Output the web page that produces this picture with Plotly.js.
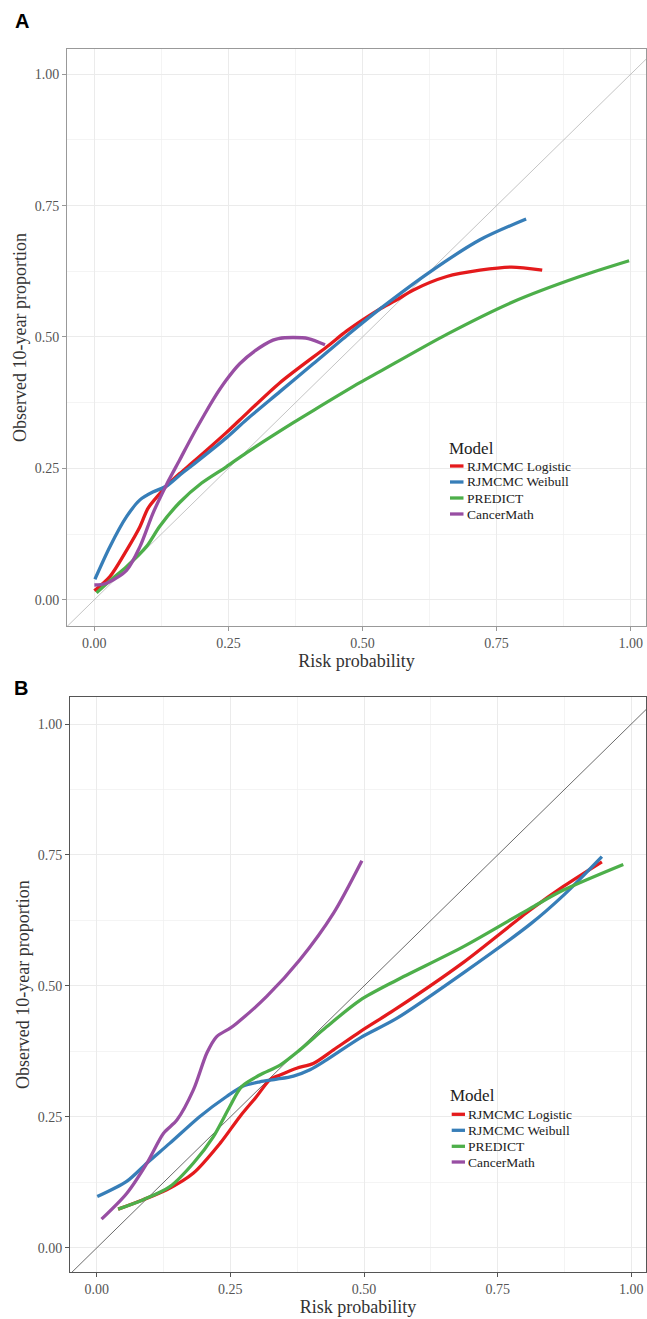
<!DOCTYPE html>
<html>
<head>
<meta charset="utf-8">
<script src="https://cdn.plot.ly/plotly-3.0.1.min.js"></script>
<style>html,body{margin:0;padding:0;background:#fff;}#chart{width:647px;height:1319px;}</style>
</head>
<body>
<div id="chart"></div>
<script>
// ---------- DATA ----------
const models = ['RJMCMC Logistic', 'RJMCMC Weibull', 'PREDICT', 'CancerMath'];
const modelColors = ['#E41A1C', '#377EB8', '#4DAF4A', '#984EA3'];
const tickVals = [0, 0.25, 0.5, 0.75, 1];
const tickText = ['0.00', '0.25', '0.50', '0.75', '1.00'];
const refLine = [-0.2, 1.2];

// Panel A
const aLogX = [0.000, 0.029, 0.060, 0.085, 0.100, 0.122, 0.134, 0.159, 0.184, 0.246, 0.271, 0.346, 0.433, 0.470, 0.501, 0.532, 0.563, 0.594, 0.657, 0.719, 0.778, 0.835];
const aLogY = [0.017, 0.044, 0.094, 0.139, 0.174, 0.202, 0.216, 0.240, 0.262, 0.318, 0.342, 0.413, 0.481, 0.511, 0.533, 0.553, 0.570, 0.589, 0.615, 0.627, 0.633, 0.627];
const aWeiX = [0.001, 0.029, 0.060, 0.085, 0.109, 0.134, 0.159, 0.184, 0.246, 0.284, 0.346, 0.408, 0.470, 0.532, 0.626, 0.719, 0.805];
const aWeiY = [0.039, 0.101, 0.158, 0.190, 0.205, 0.216, 0.237, 0.257, 0.308, 0.343, 0.396, 0.449, 0.502, 0.553, 0.624, 0.685, 0.7245];
const aPreX = [0.004, 0.030, 0.060, 0.097, 0.122, 0.159, 0.200, 0.246, 0.284, 0.371, 0.408, 0.495, 0.532, 0.657, 0.781, 0.905, 0.997];
const aPreY = [0.013, 0.037, 0.063, 0.101, 0.140, 0.185, 0.222, 0.253, 0.280, 0.337, 0.360, 0.413, 0.434, 0.505, 0.567, 0.615, 0.645];
const aCanX = [0.000, 0.022, 0.060, 0.085, 0.109, 0.134, 0.159, 0.184, 0.205, 0.221, 0.246, 0.271, 0.300, 0.333, 0.343, 0.370, 0.399, 0.430];
const aCanY = [0.028, 0.031, 0.056, 0.101, 0.164, 0.218, 0.266, 0.314, 0.352, 0.380, 0.418, 0.449, 0.474, 0.494, 0.497, 0.499, 0.497, 0.485];

// Panel B
const bLogX = [0.040, 0.087, 0.131, 0.181, 0.231, 0.268, 0.299, 0.324, 0.343, 0.374, 0.405, 0.443, 0.493, 0.561, 0.686, 0.811, 0.873, 0.945];
const bLogY = [0.074, 0.092, 0.111, 0.143, 0.200, 0.251, 0.289, 0.321, 0.330, 0.343, 0.352, 0.378, 0.413, 0.457, 0.545, 0.645, 0.690, 0.737];
const bWeiX = [0.001, 0.056, 0.094, 0.137, 0.193, 0.243, 0.274, 0.305, 0.337, 0.368, 0.399, 0.430, 0.493, 0.561, 0.686, 0.811, 0.873, 0.945];
const bWeiY = [0.098, 0.127, 0.162, 0.200, 0.251, 0.289, 0.309, 0.317, 0.322, 0.328, 0.340, 0.359, 0.401, 0.438, 0.525, 0.618, 0.673, 0.747];
const bPreX = [0.040, 0.087, 0.137, 0.181, 0.218, 0.249, 0.271, 0.305, 0.343, 0.380, 0.430, 0.493, 0.561, 0.686, 0.811, 0.873, 0.985];
const bPreY = [0.074, 0.092, 0.117, 0.162, 0.212, 0.270, 0.308, 0.330, 0.349, 0.378, 0.422, 0.473, 0.511, 0.575, 0.648, 0.683, 0.732];
const bCanX = [0.009, 0.056, 0.094, 0.125, 0.150, 0.181, 0.206, 0.224, 0.249, 0.262, 0.318, 0.380, 0.443, 0.496];
const bCanY = [0.055, 0.104, 0.162, 0.219, 0.244, 0.302, 0.372, 0.403, 0.419, 0.429, 0.480, 0.550, 0.639, 0.739];

const panelA = [[aLogX, aLogY], [aWeiX, aWeiY], [aPreX, aPreY], [aCanX, aCanY]];
const panelB = [[bLogX, bLogY], [bWeiX, bWeiY], [bPreX, bPreY], [bCanX, bCanY]];

// ---------- LAYOUT HELPERS ----------
const W = 647, H = 1319;
const M = {l: 67, r: 1, t: 49, b: 47};
const PW = W - M.l - M.r, PH = H - M.t - M.b;
const px2p = px => (px - M.l) / PW;
const py2p = py => (H - M.b - py) / PH;

const serif = 'Liberation Serif, Times New Roman, serif';

const traces = [];
function addPanel(panel, xa, ya, diagColor) {
  traces.push({x: refLine, y: refLine, xaxis: xa, yaxis: ya, mode: 'lines',
    line: {color: diagColor, width: 0.8}, hoverinfo: 'skip', showlegend: false});
  panel.forEach((d, i) => {
    traces.push({x: d[0], y: d[1], xaxis: xa, yaxis: ya, mode: 'lines', name: models[i],
      line: {color: modelColors[i], width: 3.3, shape: 'spline', smoothing: 0.8},
      showlegend: false});
  });
}
addPanel(panelA, 'x', 'y', '#b5b5b5');
addPanel(panelB, 'x2', 'y2', '#454545');

function axis(range, domain, lineColor, titleText, isX, anchor) {
  return {
    range: range, domain: domain, anchor: anchor,
    tickmode: 'array', tickvals: tickVals, ticktext: tickText,
    ticks: 'outside', ticklen: 4, tickwidth: 1, tickcolor: lineColor,
    tickfont: {family: serif, size: 14, color: '#555'},
    showgrid: true, gridcolor: '#ebebeb', gridwidth: 1,
    minor: {tickvals: [0.125, 0.375, 0.625, 0.875], showgrid: true, gridcolor: '#f0f0f0', gridwidth: 0.7, ticks: ''},
    zeroline: false, showline: true, mirror: true, linecolor: lineColor, linewidth: 1,
    title: {text: titleText, font: {family: serif, size: 18, color: '#333'}, standoff: isX ? 4 : 3},
    automargin: false, fixedrange: true
  };
}

const layout = {
  width: W, height: H, margin: M,
  paper_bgcolor: '#fff', plot_bgcolor: '#fff',
  showlegend: false,
  xaxis: axis([-0.051, 1.0285], [0, 1], '#999', 'Risk probability', true, 'y'),
  yaxis: axis([-0.050, 1.048], [py2p(626), 1], '#999', 'Observed 10-year proportion', false, 'x'),
  xaxis2: axis([-0.05, 1.0275], [px2p(70), 1], '#555', 'Risk probability', true, 'y2'),
  yaxis2: axis([-0.046, 1.051], [0, py2p(697.3)], '#555', 'Observed 10-year proportion', false, 'x2'),
  shapes: [], annotations: []
};

// Panel letters
layout.annotations.push({text: '<b>A</b>', xref: 'paper', yref: 'paper', x: px2p(21.5), y: py2p(21),
  xanchor: 'center', yanchor: 'middle', showarrow: false, font: {family: 'Liberation Sans, Arial, sans-serif', size: 20, color: '#000'}});
layout.annotations.push({text: '<b>B</b>', xref: 'paper', yref: 'paper', x: px2p(20.5), y: py2p(688),
  xanchor: 'center', yanchor: 'middle', showarrow: false, font: {family: 'Liberation Sans, Arial, sans-serif', size: 20, color: '#000'}});

// Legends (drawn as keys)
function addLegend(left, titleY, itemYs, lineX0, lineX1, textX) {
  layout.annotations.push({text: 'Model', xref: 'paper', yref: 'paper', x: px2p(left - 2), y: py2p(titleY),
    xanchor: 'left', yanchor: 'middle', showarrow: false, font: {family: serif, size: 17, color: '#222'}});
  models.forEach((m, i) => {
    layout.shapes.push({type: 'line', xref: 'paper', yref: 'paper', x0: px2p(lineX0), x1: px2p(lineX1),
      y0: py2p(itemYs[i]), y1: py2p(itemYs[i]), line: {color: modelColors[i], width: 3.3}});
    layout.annotations.push({text: m, xref: 'paper', yref: 'paper', x: px2p(textX - 2), y: py2p(itemYs[i]),
      xanchor: 'left', yanchor: 'middle', showarrow: false, font: {family: serif, size: 13.5, color: '#222'}});
  });
}
addLegend(449, 448, [466, 482, 498, 514], 450, 463.5, 466.7);
addLegend(450, 1095, [1114.3, 1130.3, 1146.3, 1162], 451.7, 465, 468.3);

Plotly.newPlot('chart', traces, layout, {staticPlot: true, displayModeBar: false});
</script>
</body>
</html>
